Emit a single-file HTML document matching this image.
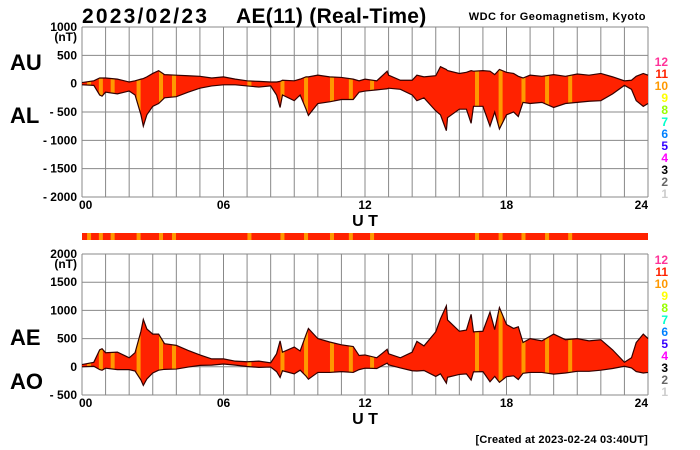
<!DOCTYPE html>
<html><head><meta charset="utf-8"><style>
body{margin:0;background:#fff;width:700px;height:450px;overflow:hidden}
svg{display:block;font-family:"Liberation Sans",sans-serif}
</style></head><body>
<svg id="c" width="700" height="450"></svg>
<script>
const hours=[0,0.5,0.75,0.85,1,1.5,2,2.25,2.5,2.6,2.75,3,3.25,3.5,4,4.5,5,5.5,6,6.5,7,7.5,8,8.25,8.4,8.5,9,9.25,9.5,9.6,10,10.5,11,11.5,11.75,12,12.5,12.94,13,13.5,14,14.2,14.5,15,15.2,15.45,15.5,16,16.3,16.5,16.6,17,17.3,17.5,17.7,18,18.3,18.5,18.7,19,19.5,20,20.5,21,21.5,22,22.5,23,23.3,23.5,23.8,24];
const auValues=[20,50,100,100,100,80,30,50,80,90,120,180,230,160,150,140,130,100,120,80,50,40,30,30,40,60,50,80,120,120,150,120,110,80,50,80,50,220,150,60,60,150,120,140,300,250,230,180,200,230,220,230,220,160,250,200,180,130,100,150,130,160,130,170,150,180,120,50,60,130,180,150];
const alValues=[-20,-30,-200,-220,-150,-180,-130,-200,-550,-750,-550,-400,-350,-250,-230,-150,-80,-40,-20,-20,-40,-60,-40,-200,-420,-200,-300,-200,-450,-560,-350,-320,-280,-280,-150,-130,-110,-90,-80,-100,-200,-300,-250,-480,-550,-830,-600,-450,-450,-700,-400,-400,-750,-500,-800,-550,-500,-580,-330,-350,-330,-420,-350,-330,-310,-300,-180,-30,-100,-300,-400,-350];
const stripeHours=[0.3,0.8,1.3,2.4,3.35,3.9,7.1,8.5,9.5,10.6,11.4,12.3,16.75,17.75,18.72,19.72,20.7];
const topTicks=["1000","500","0","- 500","- 1000","- 1500","- 2000"];
const botTicks=["2000","1500","1000","500","0","- 500"];
const xTicks=["00","06","12","18","24"];
const levelLabels=["12","11","10","9","8","7","6","5","4","3","2","1"];
const levelColors=["#ff3399","#ff2200","#ff9900","#ffff00","#99ff00","#00ffcc","#0080ff","#3300ff","#ff00ff","#000","#666","#ccc"];

const NS="http://www.w3.org/2000/svg",svg=document.getElementById('c');
function el(t,a,p){const e=document.createElementNS(NS,t);for(const k in a)e.setAttribute(k,a[k]);(p||svg).appendChild(e);return e;}
const X0=82,X1=648;const x=h=>X0+(X1-X0)*h/24;
const yT=v=>27+(1000-v)*170/3000;
const yB=v=>254+(2000-v)*141/2500;
function txt(s,xx,yy,o){const t=el('text',Object.assign({x:xx,y:yy,'font-weight':'bold','font-size':12},o||{}));t.textContent=s;return t;}

function panel(id,yf,top,bot,ticks,vals,hi,lo,unitY,lab1,lab2,lab1y,lab2y,legY){
  const g=el('g',{});
  
  
  const H=yf(bot)-yf(top);
  for(let hh=0;hh<=24;hh++)el('line',{x1:x(hh),x2:x(hh),y1:yf(top),y2:yf(bot),stroke:'#888','stroke-width':1},g);
  vals.forEach(v=>el('line',{x1:X0,x2:X1,y1:yf(v),y2:yf(v),stroke:'#888','stroke-width':1},g));
  let pts=hours.map((h,i)=>x(h)+','+yf(hi[i]));
  for(let i=hours.length-1;i>=0;i--)pts.push(x(hours[i])+','+yf(lo[i]));
  const cp=el('clipPath',{id:'cl'+id},g);el('polygon',{points:pts.join(' ')},cp);
  const area=el('polygon',{points:pts.join(' '),fill:'#ff2200'},g);
  
  
  const sg=el('g',{'clip-path':'url(#cl'+id+')'},g);
  stripeHours.forEach(h=>{const r=el('rect',{x:x(h)-2,y:yf(top),width:4,height:H,fill:'#ff9900'},sg);
    
    });
  el('polyline',{points:hours.map((h,i)=>x(h)+','+yf(hi[i])).join(' '),fill:'none',stroke:'#300','stroke-width':1.2},g);
  el('polyline',{points:hours.map((h,i)=>x(h)+','+yf(lo[i])).join(' '),fill:'none',stroke:'#300','stroke-width':1.2},g);
  ticks.forEach((t,i)=>{const e=txt(t,77,yf(vals[i])+4,{'text-anchor':'end'});
    
    });
  txt('(nT)',77,unitY,{'text-anchor':'end'});
  xTicks.forEach((t,i)=>{const e=txt(t,x(i*6)+(i==0?-3:0),yf(bot)+12,{'text-anchor':i==0?'start':(i==4?'end':'middle')});
    
    });
  txt('U T',365,yf(bot)+29,{'font-size':16,'text-anchor':'middle'});
  const a=txt(lab1,10,lab1y,{'font-size':22});
  const b=txt(lab2,10,lab2y,{'font-size':22});
  levelLabels.forEach((l,i)=>{const e=txt(l,668,legY+i*12,{'text-anchor':'end',fill:levelColors[i],'font-size':12});
    
    });
}
panel('au-al',yT,1000,-2000,topTicks,[1000,500,0,-500,-1000,-1500,-2000],auValues,alValues,41,'AU','AL',70,123,66);
const aeValues=auValues.map((u,i)=>u-alValues[i]);
const aoValues=auValues.map((u,i)=>(u+alValues[i])/2);
panel('ae-ao',yB,2000,-500,botTicks,[2000,1500,1000,500,0,-500],aeValues,aoValues,268,'AE','AO',345,389,264);
const band=el('rect',{x:X0,y:233,width:X1-X0,height:7,fill:'#ff2200'});


stripeHours.forEach(h=>{const r=el('rect',{x:x(h)-2,y:233,width:4,height:7,fill:'#ff9900'});
  
  });
const t1=txt('2023/02/23',82,23,{'font-size':21,'letter-spacing':2.2});
const t2=txt('AE(11) (Real-Time)',236,23,{'font-size':21,'letter-spacing':0.3});
const t3=txt('WDC for Geomagnetism, Kyoto',646,20,{'font-size':11,'text-anchor':'end','letter-spacing':0.5});
const t4=txt('[Created at 2023-02-24 03:40UT]',648,443,{'font-size':11,'text-anchor':'end','letter-spacing':0.2});
</script>
</body></html>
